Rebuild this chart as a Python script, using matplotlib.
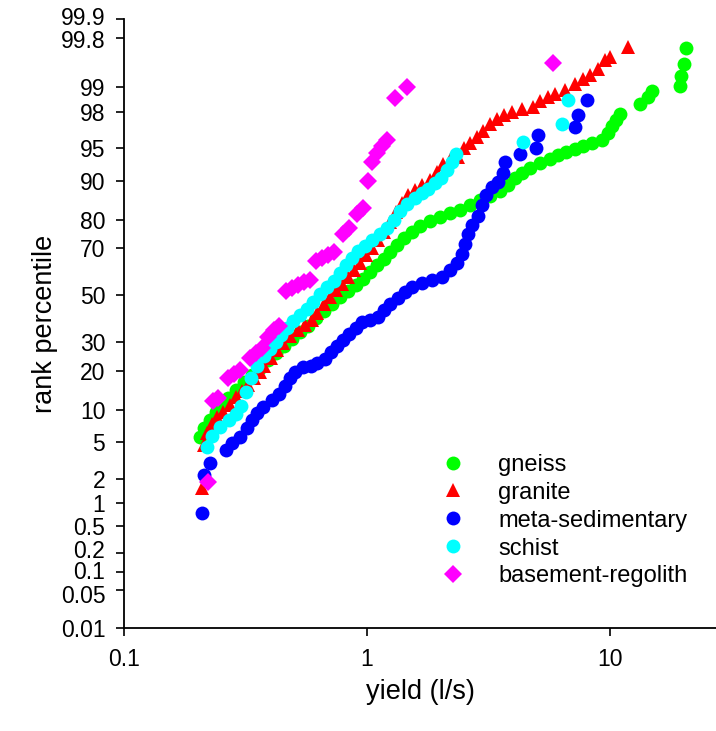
import numpy as np
import matplotlib
matplotlib.use("Agg")
import matplotlib.pyplot as plt
from matplotlib.transforms import ScaledTranslation
from statistics import NormalDist

plt.rcParams['font.family'] = ['Liberation Sans', 'DejaVu Sans']

# yield (l/s) vs rank percentile, one pair of lists per rock type
gneiss_yield = [0.206, 0.214, 0.226, 0.239, 0.253, 0.268, 0.289, 0.312, 0.336, 0.363,
                0.391, 0.422, 0.456, 0.491, 0.530, 0.572, 0.616, 0.665, 0.717, 0.774,
                0.835, 0.900, 0.963, 1.03, 1.10, 1.175, 1.243, 1.33, 1.42, 1.53,
                1.65, 1.82, 2.00, 2.20, 2.41, 2.65, 2.92, 3.21, 3.53, 3.80,
                4.06, 4.34, 4.69, 5.15, 5.66, 6.11, 6.59, 7.17, 7.74, 8.43,
                9.27, 9.81, 10.19, 10.58, 11.0, 13.3, 14.3, 14.9, 19.4, 19.6,
                20.2, 20.6]
gneiss_pct = [5.67, 6.9, 8.18, 9.6, 11.0, 12.6, 14.5, 16.6, 18.7, 20.9,
              23.5, 26.0, 28.6, 31.3, 34.1, 36.6, 40.0, 43.1, 46.2, 49.3,
              52.0, 54.6, 57.3, 60.3, 63.3, 65.8, 68.6, 71.3, 73.9, 76.1,
              78.1, 79.7, 80.9, 82.1, 83.0, 84.4, 85.7, 86.7, 87.8, 89.1,
              90.5, 91.4, 92.3, 93.05, 93.6, 94.2, 94.5, 94.9, 95.25, 95.6,
              95.9, 96.5, 97.1, 97.5, 97.9, 98.4, 98.67, 98.9, 99.04, 99.29,
              99.52, 99.72]

granite_yield = [0.209, 0.2135, 0.2195, 0.230, 0.241, 0.256, 0.273, 0.289, 0.306, 0.324,
                 0.343, 0.363, 0.377, 0.403, 0.426, 0.451, 0.482, 0.520, 0.555, 0.594,
                 0.622, 0.665, 0.704, 0.745, 0.789, 0.835, 0.884, 0.936, 0.990, 1.049,
                 1.11, 1.175, 1.243, 1.315, 1.393, 1.475, 1.575, 1.683, 1.816, 1.94,
                 2.055, 2.195, 2.37, 2.51, 2.654, 2.835, 3.00, 3.207, 3.42, 3.66,
                 3.95, 4.34, 4.82, 5.15, 5.56, 5.93, 6.53, 7.17, 7.74, 8.27,
                 8.93, 9.53, 10.0, 11.87]
granite_pct = [1.56, 4.72, 6.19, 7.52, 8.69, 9.6, 11.0, 12.8, 14.25, 15.8,
               17.8, 19.6, 21.5, 24.2, 27.1, 29.7, 32.5, 34.9, 37.0, 39.2,
               42.2, 46.2, 49.3, 52.4, 55.1, 58.1, 61.2, 64.1, 67.4, 70.2,
               73.2, 76.1, 79.4, 82.4, 84.9, 86.9, 88.1, 89.1, 90.15, 91.6,
               92.9, 93.5, 93.9, 95.0, 95.6, 96.2, 96.7, 97.2, 97.6, 97.8,
               97.98, 98.14, 98.24, 98.51, 98.67, 98.78, 98.92, 99.09, 99.22, 99.31,
               99.43, 99.58, 99.62, 99.73]

metased_yield = [0.209, 0.213, 0.226, 0.263, 0.278, 0.300, 0.320, 0.336, 0.352, 0.373,
                 0.406, 0.434, 0.460, 0.482, 0.505, 0.545, 0.588, 0.622, 0.671, 0.711,
                 0.752, 0.797, 0.843, 0.900, 0.954, 1.03, 1.11, 1.175, 1.243, 1.341,
                 1.433, 1.532, 1.683, 1.851, 2.035, 2.195, 2.344, 2.46, 2.53, 2.605,
                 2.705, 2.864, 2.97, 3.087, 3.27, 3.46, 3.63, 3.70, 4.26, 4.96,
                 5.06, 7.17, 7.39, 8.04]
metased_pct = [0.75, 2.23, 3.05, 4.19, 4.94, 5.67, 6.9, 8.18, 9.43, 10.6,
               12.1, 13.5, 15.6, 17.8, 19.6, 21.2, 21.5, 22.5, 23.9, 26.3,
               28.6, 30.9, 33.3, 35.8, 38.3, 39.2, 40.4, 43.5, 46.2, 48.8,
               51.5, 53.7, 55.5, 56.8, 58.1, 61.2, 64.1, 67.8, 71.7, 75.4,
               78.4, 81.2, 84.4, 86.9, 88.7, 89.8, 91.4, 93.2, 94.3, 95.0,
               96.35, 97.0, 97.8, 98.55]

schist_yield = [0.2195, 0.230, 0.248, 0.270, 0.289, 0.303, 0.318, 0.333, 0.352, 0.377,
                0.399, 0.422, 0.443, 0.468, 0.496, 0.530, 0.566, 0.599, 0.640, 0.684,
                0.731, 0.774, 0.819, 0.867, 0.918, 0.981, 1.049, 1.131, 1.208, 1.292,
                1.367, 1.46, 1.575, 1.683, 1.78, 1.90, 2.016, 2.13, 2.237, 2.32,
                4.39, 6.34, 6.71]
schist_pct = [4.5, 5.8, 7.05, 8.18, 9.25, 10.8, 14.0, 17.8, 21.5, 24.9,
              27.4, 30.1, 32.9, 35.8, 38.7, 41.3, 44.0, 47.1, 50.6, 53.7,
              56.4, 59.9, 63.3, 66.2, 69.0, 70.9, 73.2, 75.4, 77.4, 80.0,
              82.7, 84.7, 86.2, 87.4, 88.3, 89.5, 90.5, 91.95, 93.2, 94.3,
              95.7, 97.2, 98.55]

regolith_yield = [0.222, 0.2325, 0.244, 0.268, 0.284, 0.300, 0.330, 0.349, 0.370, 0.391,
                  0.414, 0.434, 0.464, 0.491, 0.520, 0.551, 0.5825, 0.616, 0.653, 0.691,
                  0.731, 0.797, 0.843, 0.909, 0.963, 1.01, 1.049, 1.099, 1.153, 1.208,
                  1.303, 1.46, 5.83]
regolith_pct = [1.84, 11.9, 12.6, 17.8, 19.0, 20.2, 24.2, 26.0, 27.8, 32.1,
                34.9, 36.6, 52.0, 53.3, 54.6, 56.0, 56.8, 65.0, 66.2, 67.4,
                68.6, 75.4, 77.4, 81.9, 83.6, 90.0, 93.2, 94.4, 95.25, 95.9,
                98.63, 99.0, 99.53]

pct_ticks = [0.01, 0.05, 0.1, 0.2, 0.5, 1, 2, 5, 10, 20, 30, 50, 70, 80, 90, 95, 98, 99, 99.8, 99.9]
pct_labels = ['0.01', '0.05', '0.1', '0.2', '0.5', '1', '2', '5', '10', '20', '30', '50',
              '70', '80', '90', '95', '98', '99', '99.8', '99.9']

nd = NormalDist()


def _probit(p):
    p = np.clip(np.asarray(p, dtype=float) / 100.0, 1e-9, 1 - 1e-9)
    return np.vectorize(nd.inv_cdf, otypes=[float])(p)


def _inv_probit(z):
    z = np.asarray(z, dtype=float)
    return np.vectorize(nd.cdf, otypes=[float])(z) * 100.0


fig = plt.figure(figsize=(7.16, 7.31), dpi=100)
ax = fig.add_axes([124 / 716, 103 / 731, 592 / 716, 609 / 731])

series = [
    (gneiss_yield, gneiss_pct, 'o', '#00ff00', 10, 'gneiss'),
    (granite_yield, granite_pct, '^', '#ff0000', 10.5, 'granite'),
    (metased_yield, metased_pct, 'o', '#0000ff', 10, 'meta-sedimentary'),
    (schist_yield, schist_pct, 'o', '#00ffff', 10, 'schist'),
    (regolith_yield, regolith_pct, 'D', '#ff00ff', 9, 'basement-regolith'),
]
for xs, ys, mk, col, ms, lab in series:
    ax.plot(xs, ys, linestyle='none', marker=mk, color=col, markersize=ms,
            markeredgewidth=0, label=lab)

ax.set_xscale('log')
ax.set_yscale('function', functions=(_probit, _inv_probit))
ax.set_xlim(0.1, 27.3)
ax.set_ylim(0.01, 99.9)

ax.set_xticks([0.1, 1, 10])
ax.set_xticklabels(['0.1', '1', '10'])
ax.xaxis.set_minor_locator(matplotlib.ticker.NullLocator())
ax.set_yticks(pct_ticks)
ax.set_yticklabels(pct_labels)
ax.yaxis.set_minor_locator(matplotlib.ticker.NullLocator())

for s in ['top', 'right']:
    ax.spines[s].set_visible(False)
for s in ['left', 'bottom']:
    ax.spines[s].set_linewidth(1.3)
ax.tick_params(axis='both', direction='out', length=6, width=1.2, labelsize=16.5, color='black')
ax.tick_params(axis='x', pad=8.5)
ax.tick_params(axis='y', pad=7.5)

# crowded labels are nudged apart a little, as in the original
nudge = {'99.9': 2, '99.8': -1, '0.2': 2.5, '0.1': 1, '0.05': -3}
for lbl in ax.get_yticklabels():
    dy = nudge.get(lbl.get_text(), 0)
    if dy:
        lbl.set_transform(lbl.get_transform() + ScaledTranslation(0, dy / 72, fig.dpi_scale_trans))

ax.set_xlabel('yield (l/s)', fontsize=19.5, labelpad=6)
ax.set_ylabel('rank percentile', fontsize=19.5, labelpad=2)

ax.legend(loc='upper left', bbox_to_anchor=(0.536, 0.286), frameon=False,
          fontsize=17, handlelength=1.0, handletextpad=1.42, labelspacing=0.25,
          borderpad=0, borderaxespad=0, markerscale=1.0)

fig.savefig('out.png', dpi=100)
